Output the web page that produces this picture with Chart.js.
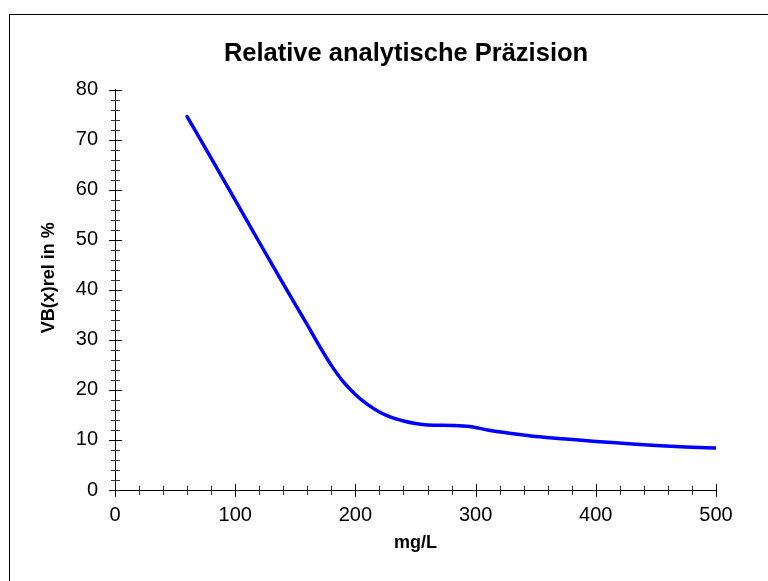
<!DOCTYPE html>
<html>
<head>
<meta charset="utf-8">
<script src="https://cdn.jsdelivr.net/npm/chart.js@4.4.0/dist/chart.umd.min.js"></script>
<style>
  html, body { margin: 0; padding: 0; background: #fff; overflow: hidden; }
  #wrap { position: relative; width: 768px; height: 581px; overflow: hidden; }
  #frame { position: absolute; left: 9px; top: 14px; width: 900px; height: 700px;
           border-top: 1px solid #000; border-left: 1px solid #000; }
  canvas { position: absolute; left: 0; top: 0; }
</style>
</head>
<body>
<div id="wrap">
  <div id="frame"></div>
  <canvas id="c" width="768" height="581"></canvas>
</div>
<script>
// ---- data ----
const concentrations = [60, 80, 100, 120, 140, 160, 170, 180, 190, 200, 210, 220, 230, 240, 250, 260, 280, 295, 310, 330, 350, 375, 400, 425, 450, 475, 500];
const precisionValues = [74.6, 66.3, 57.9, 49.5, 41.2, 33.0, 28.8, 24.9, 21.6, 19.1, 17.1, 15.6, 14.5, 13.8, 13.3, 13.0, 12.9, 12.7, 12.0, 11.3, 10.7, 10.2, 9.7, 9.3, 8.9, 8.6, 8.4];
const xTickValues = [0, 100, 200, 300, 400, 500];
const yTickValues = [0, 10, 20, 30, 40, 50, 60, 70, 80];
const titleText = 'Relative analytische Präzision';
const xTitle = 'mg/L';
const yTitle = 'VB(x)rel in %';

const FONT = "'Liberation Sans', Arial, sans-serif";

const tickPlugin = {
  id: 'crossTicks',
  afterLayout(chart) {
    const t = chart.titleBlock;
    if (t) {
      t.left = chart.chartArea.left - 19;
      t.right = chart.chartArea.right;
    }
    const ys = chart.scales.y;
    if (ys && !ys._titleShifted) {
      const orig = ys.drawTitle.bind(ys);
      ys.drawTitle = function () {
        const top = this.top, bottom = this.bottom;
        this.top = top - 24; this.bottom = bottom;
        orig();
        this.top = top; this.bottom = bottom;
      };
      ys._titleShifted = true;
    }
  },
  afterDraw(chart) {
    const ctx = chart.ctx;
    const xs = chart.scales.x, ys = chart.scales.y;
    const ax = Math.round(chart.chartArea.left) + 0.5;
    const ay = Math.round(chart.chartArea.bottom) + 0.5;
    ctx.save();
    ctx.lineWidth = 1;
    for (let v = 0; v <= 80; v += 2) {
      const major = v % 10 === 0;
      const p = Math.round(ys.getPixelForValue(v)) + 0.5;
      const len = major ? 6.5 : 4.5;
      ctx.strokeStyle = major ? '#000' : '#333';
      ctx.beginPath(); ctx.moveTo(ax - len, p); ctx.lineTo(ax + len, p); ctx.stroke();
    }
    for (let v = 0; v <= 500; v += 20) {
      const major = v % 100 === 0;
      const p = Math.round(xs.getPixelForValue(v)) + 0.5;
      const len = major ? 6.5 : 4.5;
      ctx.strokeStyle = major ? '#000' : '#333';
      ctx.beginPath(); ctx.moveTo(p, ay - len); ctx.lineTo(p, ay + len); ctx.stroke();
    }
    ctx.restore();
  }
};

new Chart(document.getElementById('c'), {
  type: 'line',
  data: {
    datasets: [{
      data: concentrations.map((x, i) => ({ x: x, y: precisionValues[i] })),
      borderColor: '#0000FF',
      borderWidth: 3.5,
      pointRadius: 0,
      fill: false,
      cubicInterpolationMode: 'monotone',
      borderCapStyle: 'round'
    }]
  },
  options: {
    responsive: false,
    animation: false,
    layout: { padding: { top: 20, left: 28, right: 52, bottom: 23 } },
    plugins: {
      legend: { display: false },
      tooltip: { enabled: false },
      title: {
        display: true,
        text: titleText,
        color: '#000',
        font: { family: FONT, size: 25.5, weight: 'bold', lineHeight: 1.2 },
        padding: { top: 19, bottom: 20 }
      }
    },
    scales: {
      x: {
        type: 'linear',
        min: 0, max: 500,
        afterFit(s) { s.height = 68; },
        afterBuildTicks(s) { s.ticks = xTickValues.map(v => ({ value: v })); },
        grid: { display: true, drawOnChartArea: false, drawTicks: true, tickLength: 6, color: 'rgba(0,0,0,0)' },
        border: { display: true, color: '#000', width: 1 },
        ticks: { color: '#000', padding: 7, maxRotation: 0, font: { family: FONT, size: 20 } },
        title: {
          display: true, text: xTitle, color: '#000',
          font: { family: FONT, size: 18, weight: 'bold', lineHeight: 1.2 },
          padding: { top: 0, bottom: 4 }
        }
      },
      y: {
        type: 'linear',
        min: 0, max: 80,
        afterFit(s) { s.width = 87; },
        afterBuildTicks(s) { s.ticks = yTickValues.map(v => ({ value: v })); },
        grid: { display: true, drawOnChartArea: false, drawTicks: true, tickLength: 6, color: 'rgba(0,0,0,0)' },
        border: { display: true, color: '#000', width: 1 },
        ticks: { color: '#000', padding: 11, font: { family: FONT, size: 20 } },
        title: {
          display: true, text: yTitle, color: '#000',
          font: { family: FONT, size: 18, weight: 'bold', lineHeight: 1.2 },
          padding: { top: 10, bottom: 0 }
        }
      }
    }
  },
  plugins: [tickPlugin]
});
</script>
</body>
</html>
